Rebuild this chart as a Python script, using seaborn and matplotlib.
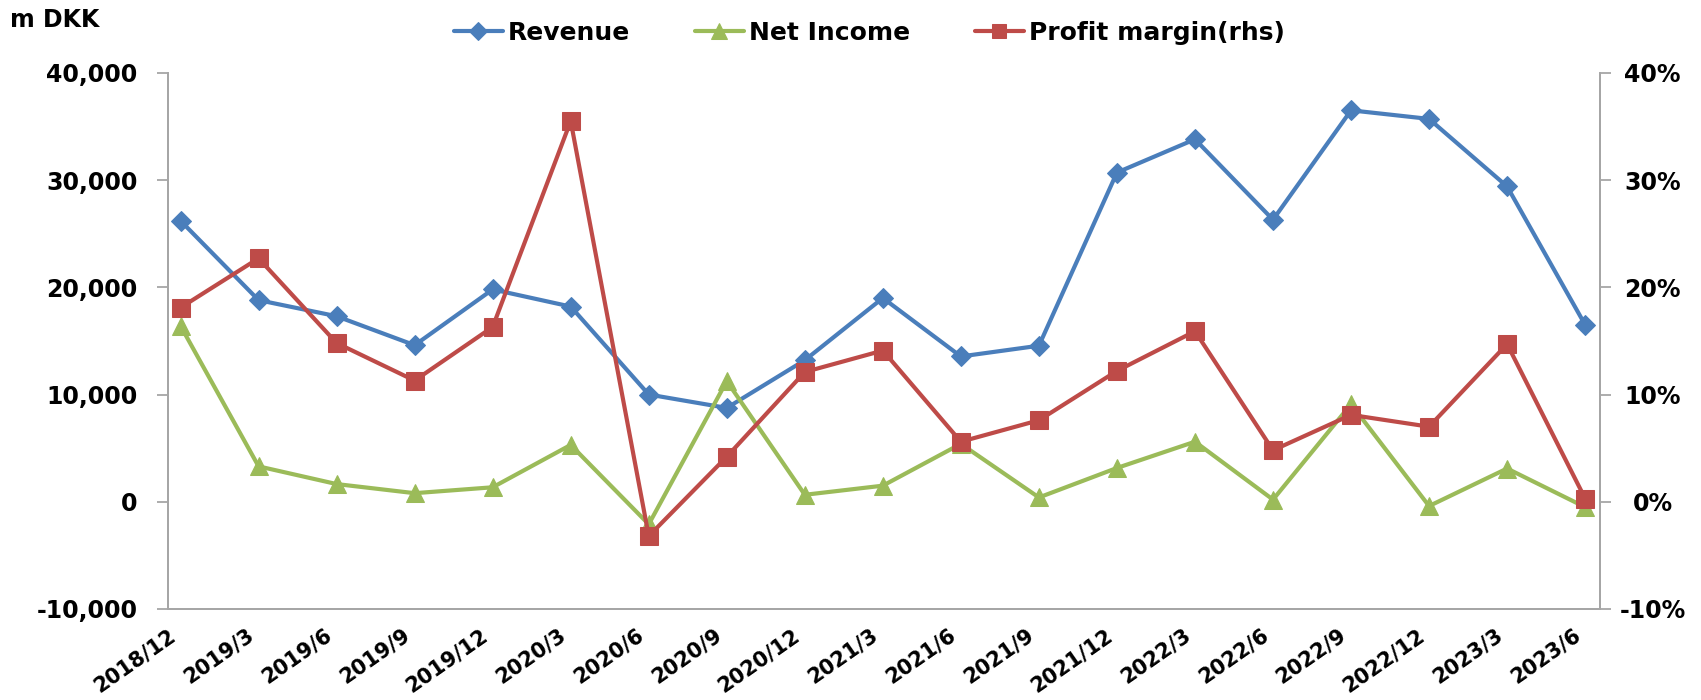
import numpy as np
import pandas as pd
import matplotlib
matplotlib.use("Agg")
import matplotlib.pyplot as plt
import matplotlib.transforms as mtransforms
from matplotlib.ticker import FuncFormatter, MultipleLocator
import seaborn as sns

quarters = ["2018/12", "2019/3", "2019/6", "2019/9", "2019/12", "2020/3", "2020/6",
            "2020/9", "2020/12", "2021/3", "2021/6", "2021/9", "2021/12", "2022/3",
            "2022/6", "2022/9", "2022/12", "2023/3", "2023/6"]
revenue = [26200, 18800, 17300, 14600, 19800, 18200, 10000, 8750, 13200, 19000,
           13550, 14550, 30700, 33800, 26300, 36500, 35700, 29400, 16500]
net_income = [16400, 3300, 1650, 800, 1350, 5300, -2100, 11250, 650, 1500,
              5400, 400, 3150, 5600, 200, 9100, -400, 3100, -500]
profit_margin = [18.1, 22.7, 14.8, 11.3, 16.3, 35.5, -3.2, 4.2, 12.1, 14.1,
                 5.6, 7.6, 12.2, 15.9, 4.8, 8.1, 7.0, 14.7, 0.3]

sns.set_theme(style="white")
plt.rcParams['font.family'] = ['DejaVu Sans']
plt.rcParams['font.weight'] = 'bold'
plt.rcParams['text.color'] = 'black'

BLUE = "#4A7EBB"
GREEN = "#9BBB59"
RED = "#BE4B48"
GRAY = "#A6A6A6"
FS = 17
XFS = 15

idx = np.arange(len(quarters))
xpos = idx + 0.16
df = pd.DataFrame({"x": xpos, "Revenue": revenue, "Net Income": net_income,
                   "Profit margin(rhs)": profit_margin})

fig = plt.figure(figsize=(17.01, 7.0), dpi=100)
ax = fig.add_axes([0.0988, 0.130, 0.8418, 0.766])
ax2 = ax.twinx()

sns.lineplot(data=df, x="x", y="Revenue", ax=ax, color=BLUE, lw=3, marker="D",
             markersize=10.5, markeredgecolor=BLUE, label="Revenue", legend=False, zorder=3)
sns.lineplot(data=df, x="x", y="Net Income", ax=ax, color=GREEN, lw=3, marker="^",
             markersize=13, markeredgecolor=GREEN, label="Net Income", legend=False, zorder=3)
sns.lineplot(data=df, x="x", y="Profit margin(rhs)", ax=ax2, color=RED, lw=3, marker="s",
             markersize=12.5, markeredgecolor=RED, label="Profit margin(rhs)", legend=False, zorder=3)

ax.set_ylim(-10000, 40000)
ax2.set_ylim(-10, 40)
ax.yaxis.set_major_locator(MultipleLocator(10000))
ax2.yaxis.set_major_locator(MultipleLocator(10))
ax.yaxis.set_major_formatter(FuncFormatter(lambda v, p: f"{int(v):,}"))
ax2.yaxis.set_major_formatter(FuncFormatter(lambda v, p: f"{int(round(v))}%"))
ax.set_xlim(0, len(quarters) - 1 + 0.35)
ax.set_xticks(idx)
ax.set_xticklabels(quarters, rotation=35, ha="right", va="top", rotation_mode="anchor",
                   fontsize=XFS, fontweight="bold")
offset = mtransforms.ScaledTranslation(18 / 100, -6 / 100, fig.dpi_scale_trans)
for lab in ax.get_xticklabels():
    lab.set_transform(lab.get_transform() + offset)

for a in (ax, ax2):
    a.set_xlabel("")
    a.set_ylabel("")
    a.grid(False)
    for s in a.spines.values():
        s.set_color(GRAY)
        s.set_linewidth(1.3)
    a.spines["top"].set_visible(False)
    a.tick_params(axis="both", which="major", direction="out", length=8, width=1.3,
                  color=GRAY, labelsize=FS, labelcolor="black")
ax.tick_params(axis="x", labelsize=XFS)
ax.tick_params(axis="y", pad=14)
ax2.tick_params(axis="y", pad=30)
for lab in ax.get_yticklabels():
    lab.set_fontweight("bold")
for lab in ax2.get_yticklabels():
    lab.set_fontweight("bold")
    lab.set_horizontalalignment("center")

fig.text(0.006, 0.972, "m DKK", fontsize=FS, fontweight="bold", ha="left", va="center")

h1, l1 = ax.get_legend_handles_labels()
h2, l2 = ax2.get_legend_handles_labels()
fig.legend(h1 + h2, l1 + l2, loc="center", bbox_to_anchor=(0.511, 0.953), ncol=3,
           frameon=False, prop={"weight": "bold", "size": FS + 1},
           handlelength=1.95, handletextpad=0.2, columnspacing=2.6, markerscale=0.85)

fig.savefig("out.png", dpi=100)
